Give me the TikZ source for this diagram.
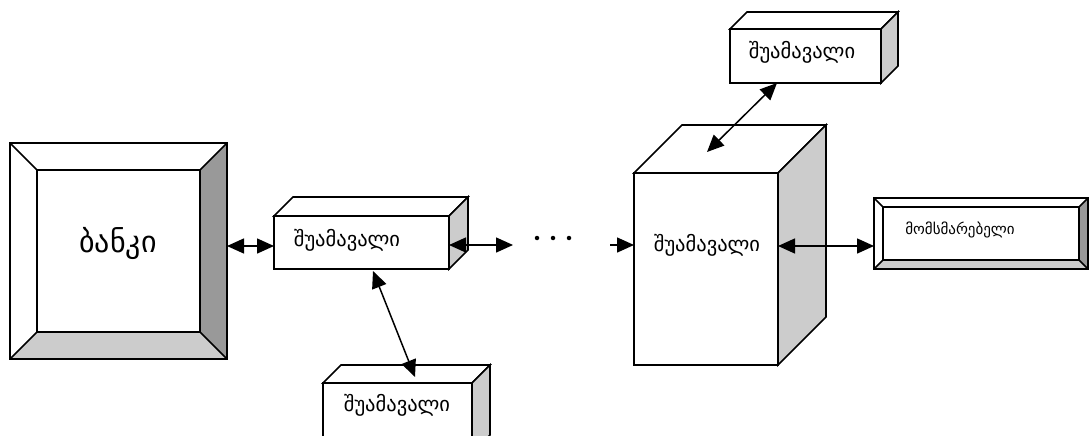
\documentclass[tikz,border=0pt]{standalone}
\usepackage{fontspec}
\setmainfont{DejaVu Sans}
\usetikzlibrary{arrows.meta,calc}
\definecolor{sidegray}{HTML}{CCCCCC}
\definecolor{darkbevel}{HTML}{999999}
\definecolor{lightbevel}{HTML}{CCCCCC}
\newcommand{\cuboidfaces}[2]{%
  \draw[face,fill=white] (#1.north west) -- ++(#2,-#2) -- ($(#1.north east)+(#2,-#2)$) -- (#1.north east) -- cycle;
  \draw[face,fill=sidegray] (#1.north east) -- ++(#2,-#2) -- ($(#1.south east)+(#2,-#2)$) -- (#1.south east) -- cycle;}
\newcommand{\bevelfaces}[2]{%
  \fill[darkbevel] (#1.north east) -- (#1.south east) -- ($(#1.south east)+(-#2,-#2)$) -- ($(#1.north east)+(-#2,#2)$) -- cycle;
  \fill[lightbevel] (#1.south west) -- (#1.south east) -- ($(#1.south east)+(-#2,-#2)$) -- ($(#1.south west)+(#2,-#2)$) -- cycle;
  \draw[face] (#1.north west) rectangle (#1.south east);
  \draw[face] ($(#1.north west)+(#2,#2)$) rectangle ($(#1.south east)+(-#2,-#2)$);
  \draw[face] (#1.north west) -- ++(#2,#2);
  \draw[face] (#1.north east) -- ++(-#2,#2);
  \draw[face] (#1.south west) -- ++(#2,-#2);
  \draw[face] (#1.south east) -- ++(-#2,-#2);}
\begin{document}
\begin{tikzpicture}[x=1pt,y=-1pt,
  face/.style={draw=black,line width=1.6pt,line join=miter},
  front/.style={draw=black,line width=1.6pt,fill=white,inner sep=0pt,outer sep=0pt},
  bevelbox/.style={inner sep=0pt,outer sep=0pt},
  lbl/.style={inner sep=0pt,font=\fontsize{20.5}{24}\selectfont},
  biglbl/.style={inner sep=0pt,font=\fontsize{30}{34}\selectfont},
  smalllbl/.style={inner sep=0pt,font=\fontsize{15}{18}\selectfont},
  conn/.style={line width=1.5pt,{Triangle[length=17pt,width=15pt]}-{Triangle[length=17pt,width=15pt]}},
  oneway/.style={line width=1.5pt,-{Triangle[length=17pt,width=15pt]}},
  dot/.style={circle,fill=black,inner sep=0pt,minimum size=4.5pt}]
\useasboundingbox (0,0) rectangle (1089,436);
\clip (0,0) rectangle (1089,436);
% bank
\node[bevelbox,minimum width=217pt,minimum height=216pt] (bank) at (118.5,251) {};
\bevelfaces{bank}{27}
\node[biglbl] (bankt) at (118,243) {ბანკი};
% middle 1
\node[front,minimum width=175pt,minimum height=53pt] (m1) at (361.5,242.5) {};
\cuboidfaces{m1}{19}
\node[lbl] (m1t) at (347,240) {შუამავალი};
% bottom middle
\node[front,minimum width=149pt,minimum height=70pt] (mbot) at (397.5,418) {};
\cuboidfaces{mbot}{18}
\node[lbl] (mbott) at (397,405) {შუამავალი};
% top middle
\node[front,minimum width=151pt,minimum height=54pt] (mtop) at (805.5,56) {};
\cuboidfaces{mtop}{17}
\node[lbl] (mtopt) at (802,52) {შუამავალი};
% big middle
\node[front,minimum width=144pt,minimum height=192pt] (big) at (706,269) {};
\cuboidfaces{big}{48}
\node[lbl] (bigt) at (707,245) {შუამავალი};
% user
\node[bevelbox,minimum width=214pt,minimum height=71pt] (user) at (981,233.5) {};
\bevelfaces{user}{9}
\node[smalllbl] (usert) at (960,230) {მომსმარებელი};
% connectors
\coordinate (row) at (0,246);
\coordinate (rowb) at (0,245);
\coordinate (freeA) at (513,245);
\coordinate (freeB) at (610,245);
\draw[conn] (bank.east |- row) -- (m1.west |- row);
\draw[conn] (m1.east |- rowb) -- (freeA);
\node[dot] (d1) at (537,238) {};
\node[dot] (d2) at (553,238) {};
\node[dot] (d3) at (569,238) {};
\draw[oneway] (freeB) -- (big.west |- rowb);
\draw[conn] (big.east |- row) -- (user.west |- row);
\draw[conn] ($(mtop.south west)+(47,0)$) -- ($(big.north west)+(73,-21)$);
\draw[conn] ($(m1.south west)+(99,2)$) -- ($(mbot.north west)+(92,-6)$);
\end{tikzpicture}
\end{document}
